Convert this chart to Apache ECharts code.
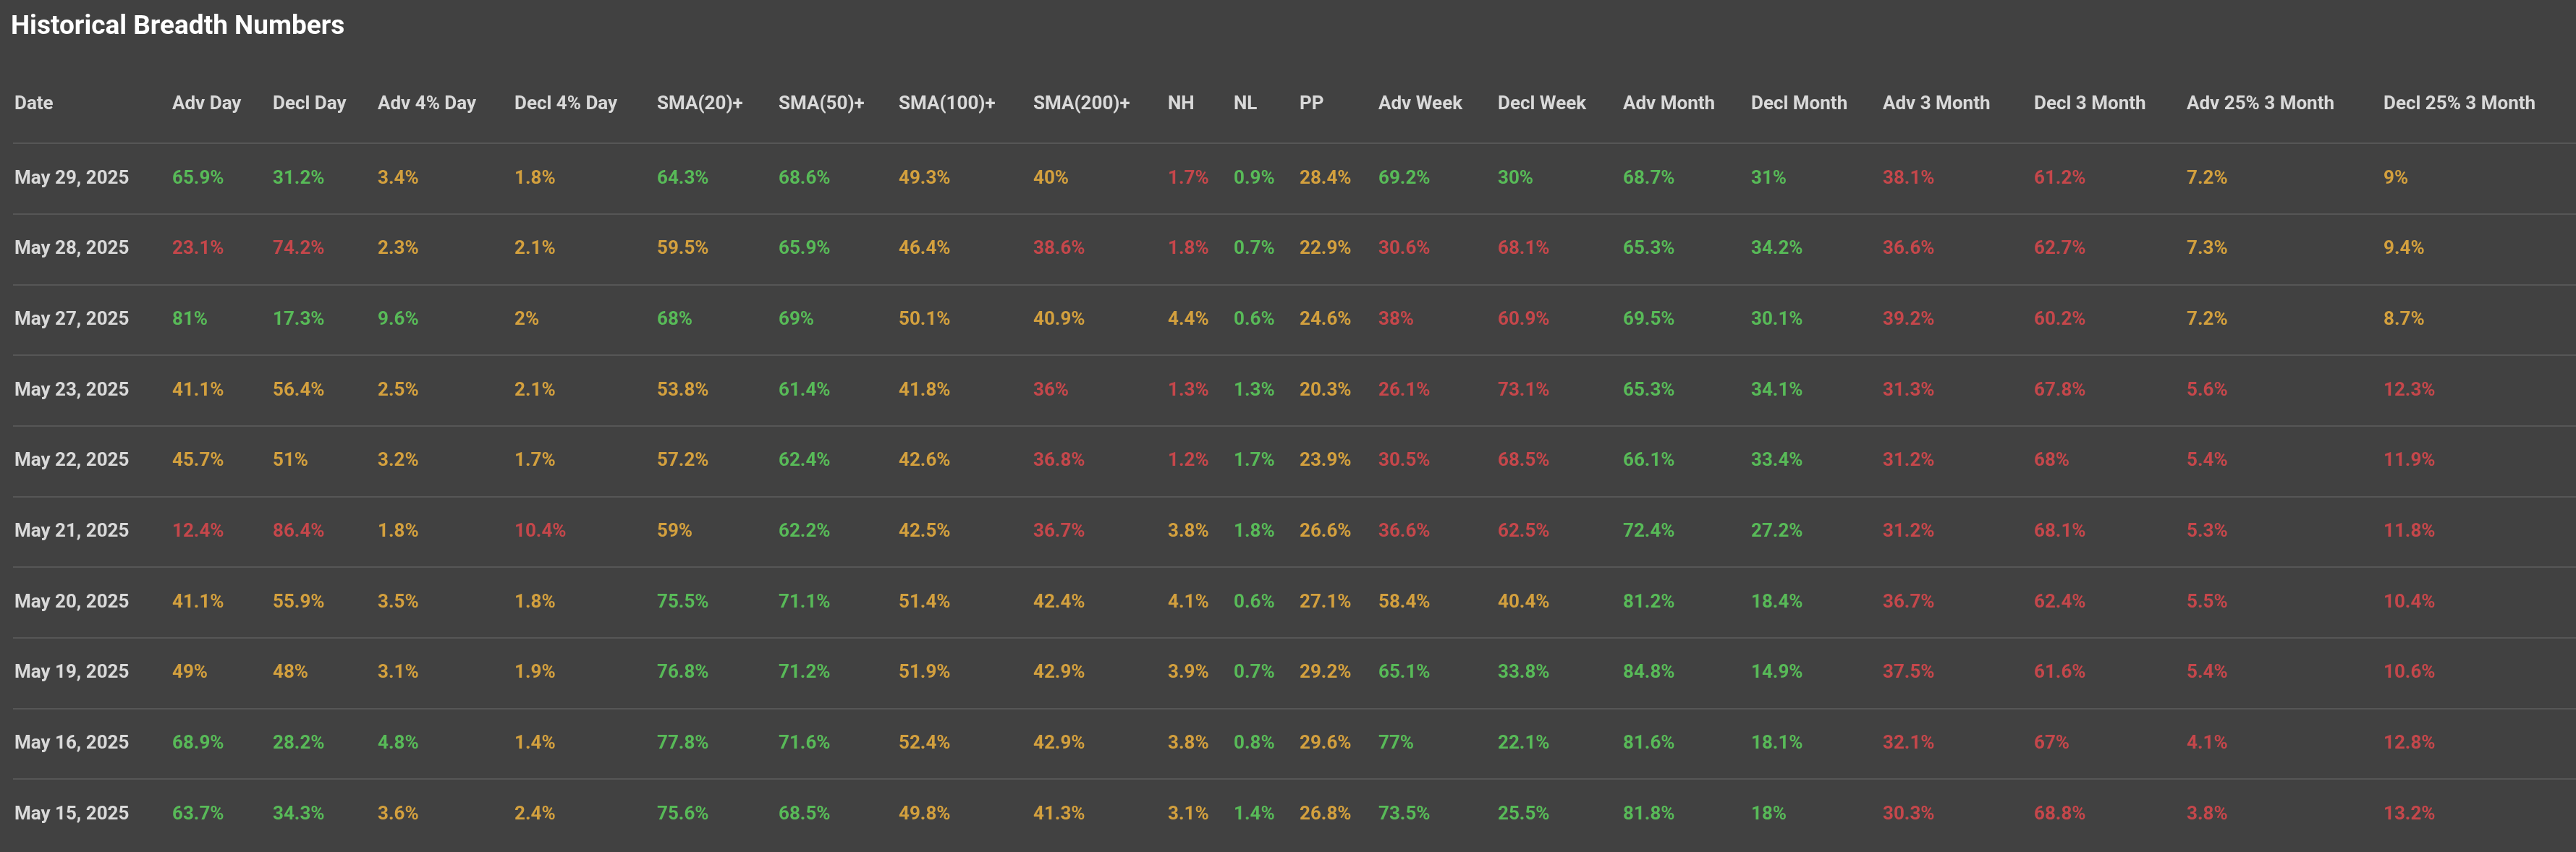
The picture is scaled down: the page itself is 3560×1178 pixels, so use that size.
<!DOCTYPE html>
<html>
<head>
<meta charset="utf-8">
<script src="https://cdn.jsdelivr.net/npm/echarts@6/dist/echarts.min.js"></script>
<style>html,body{margin:0;background:#414141;}#main{width:3560px;height:1178px;}</style>
</head>
<body>
<div id="main"></div>
<script>
// table data, one array per column (rows newest first)
var dates = ["May 29, 2025","May 28, 2025","May 27, 2025","May 23, 2025","May 22, 2025","May 21, 2025","May 20, 2025","May 19, 2025","May 16, 2025","May 15, 2025"];
var headers = ["Date","Adv Day","Decl Day","Adv 4% Day","Decl 4% Day","SMA(20)+","SMA(50)+","SMA(100)+","SMA(200)+","NH","NL","PP","Adv Week","Decl Week","Adv Month","Decl Month","Adv 3 Month","Decl 3 Month","Adv 25% 3 Month","Decl 25% 3 Month"];
var advDay = [65.9,23.1,81,41.1,45.7,12.4,41.1,49,68.9,63.7];
var declDay = [31.2,74.2,17.3,56.4,51,86.4,55.9,48,28.2,34.3];
var adv4Day = [3.4,2.3,9.6,2.5,3.2,1.8,3.5,3.1,4.8,3.6];
var decl4Day = [1.8,2.1,2,2.1,1.7,10.4,1.8,1.9,1.4,2.4];
var sma20 = [64.3,59.5,68,53.8,57.2,59,75.5,76.8,77.8,75.6];
var sma50 = [68.6,65.9,69,61.4,62.4,62.2,71.1,71.2,71.6,68.5];
var sma100 = [49.3,46.4,50.1,41.8,42.6,42.5,51.4,51.9,52.4,49.8];
var sma200 = [40,38.6,40.9,36,36.8,36.7,42.4,42.9,42.9,41.3];
var nh = [1.7,1.8,4.4,1.3,1.2,3.8,4.1,3.9,3.8,3.1];
var nl = [0.9,0.7,0.6,1.3,1.7,1.8,0.6,0.7,0.8,1.4];
var pp = [28.4,22.9,24.6,20.3,23.9,26.6,27.1,29.2,29.6,26.8];
var advWeek = [69.2,30.6,38,26.1,30.5,36.6,58.4,65.1,77,73.5];
var declWeek = [30,68.1,60.9,73.1,68.5,62.5,40.4,33.8,22.1,25.5];
var advMonth = [68.7,65.3,69.5,65.3,66.1,72.4,81.2,84.8,81.6,81.8];
var declMonth = [31,34.2,30.1,34.1,33.4,27.2,18.4,14.9,18.1,18];
var adv3Month = [38.1,36.6,39.2,31.3,31.2,31.2,36.7,37.5,32.1,30.3];
var decl3Month = [61.2,62.7,60.2,67.8,68,68.1,62.4,61.6,67,68.8];
var adv25 = [7.2,7.3,7.2,5.6,5.4,5.3,5.5,5.4,4.1,3.8];
var decl25 = [9,9.4,8.7,12.3,11.9,11.8,10.4,10.6,12.8,13.2];
// signal per cell: g = green, o = amber, r = red
var signals = [
  "ggooggoorgoggggrroo",
  "rrooogorrgorrggrroo",
  "gggoggooogorrggrroo",
  "ooooogorrgorrggrrrr",
  "ooooogorrgorrggrrrr",
  "rrorogorogorrggrrrr",
  "ooooggooogoooggrrrr",
  "ooooggooogoggggrrrr",
  "gggoggooogoggggrrrr",
  "ggooggooogoggggrrrr"
];

var columns = [advDay,declDay,adv4Day,decl4Day,sma20,sma50,sma100,sma200,nh,nl,pp,advWeek,declWeek,advMonth,declMonth,adv3Month,decl3Month,adv25,decl25];
var colX = [20,238,377,522,711,908,1076,1242,1428,1614,1705,1796,1905,2070,2243,2420,2602,2811,3022,3294];
var palette = { g: "#5ed85e", o: "#f7b83d", r: "#e6484e" };

var headerPts = headers.map(function (h, i) { return { value: [colX[i], -1.05], name: h }; });
var datePts = dates.map(function (d, r) { return { value: [colX[0], r], name: d }; });
var cellPts = [];
columns.forEach(function (col, c) {
  col.forEach(function (v, r) {
    cellPts.push({ value: [colX[c + 1], r], name: v + "%",
      label: { color: palette[signals[r][c]] } });
  });
});
var seps = [];
for (var i = 0; i < dates.length; i++) seps.push({ yAxis: i - 0.5 });

var txt = { show: true, position: "right", distance: 0, formatter: "{b}",
  fontFamily: "Roboto", fontWeight: "bold", fontSize: 26, color: "#fff" };

var chart = echarts.init(document.getElementById("main"));
chart.setOption({
  backgroundColor: "#414141",
  animation: false,
  title: { text: "Historical Breadth Numbers", left: 10, top: 14,
    textStyle: { color: "#fff", fontFamily: "Roboto", fontWeight: "bold", fontSize: 37 } },
  grid: { left: 18, right: 0, top: 0, bottom: 0 },
  xAxis: { type: "value", min: 18, max: 3560, show: false },
  yAxis: { type: "value", inverse: true, min: -2.529, max: 9.532, show: false },
  series: [
    { type: "scatter", symbolSize: 0, data: headerPts, label: txt,
      markLine: { silent: true, symbol: "none", label: { show: false },
        lineStyle: { color: "#565656", type: "solid", width: 2 }, data: seps } },
    { type: "scatter", symbolSize: 0, data: datePts, label: txt },
    { type: "scatter", symbolSize: 0, data: cellPts, label: txt }
  ]
});
</script>
</body>
</html>
